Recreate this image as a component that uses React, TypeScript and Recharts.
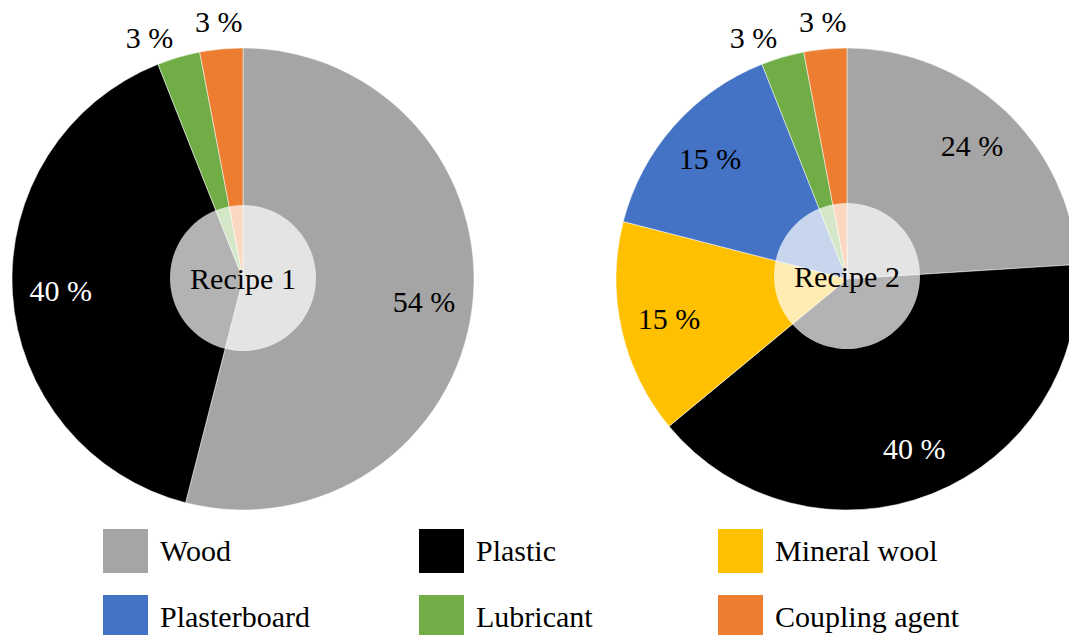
import React from 'react';
import { PieChart, Pie, Cell } from 'recharts';

const recipe1Names = ['Wood', 'Plastic', 'Lubricant', 'Coupling agent'];
const recipe1Values = [54, 40, 3, 3];

const recipe2Names = ['Wood', 'Plastic', 'Mineral wool', 'Plasterboard', 'Lubricant', 'Coupling agent'];
const recipe2Values = [24, 40, 15, 15, 3, 3];

const legendNames = ['Wood', 'Plastic', 'Mineral wool', 'Plasterboard', 'Lubricant', 'Coupling agent'];

const COLORS: Record<string, string> = {
  Wood: '#a5a5a5',
  Plastic: '#000000',
  'Mineral wool': '#ffc000',
  Plasterboard: '#4472c4',
  Lubricant: '#70ad47',
  'Coupling agent': '#ed7d31',
};

const FONT = 'Times New Roman, serif';
const RADIAN = Math.PI / 180;
const R = 231;

const recipe1 = recipe1Names.map((name, i) => ({ name, value: recipe1Values[i] }));
const recipe2 = recipe2Names.map((name, i) => ({ name, value: recipe2Values[i] }));

// small slices get labels outside; lubricant label sits a bit further left
const outsideShift: Record<string, number> = { Lubricant: 5, 'Coupling agent': 0 };

const renderLabel = (props: any) => {
  const { cx, cy, midAngle, outerRadius, value, name } = props;
  const small = value < 5;
  const r = small ? outerRadius * 1.12 : outerRadius * 0.79;
  const angle = midAngle + (small ? outsideShift[name] || 0 : 0);
  const x = cx + r * Math.cos(-angle * RADIAN);
  const y = cy + r * Math.sin(-angle * RADIAN);
  return (
    <text
      x={x}
      y={y}
      fill={name === 'Plastic' ? '#ffffff' : '#000000'}
      textAnchor="middle"
      dominantBaseline="central"
      style={{ fontFamily: FONT, fontSize: 30 }}
    >
      {`${value} %`}
    </text>
  );
};

const renderCenter = (props: any) => (
  <text
    x={props.cx}
    y={props.cy}
    fill="#000"
    textAnchor="middle"
    dominantBaseline="central"
    style={{ fontFamily: FONT, fontSize: 30 }}
  >
    {props.name}
  </text>
);

export default function App() {
  return (
    <div
      style={{
        position: 'absolute',
        left: 0,
        top: 0,
        width: 1069,
        height: 635,
        overflow: 'hidden',
        background: '#fff',
        fontFamily: FONT,
      }}
    >
      <PieChart width={1069} height={520} margin={{ top: 0, right: 0, bottom: 0, left: 0 }}>
        <Pie
          data={recipe1}
          dataKey="value"
          nameKey="name"
          cx={243}
          cy={279}
          outerRadius={R}
          startAngle={90}
          endAngle={-270}
          stroke="#ffffff"
          strokeWidth={0.5}
          label={renderLabel}
          labelLine={false}
          isAnimationActive={false}
        >
          {recipe1.map(d => (
            <Cell key={d.name} fill={COLORS[d.name]} />
          ))}
        </Pie>
        <Pie
          data={[{ name: 'Recipe 1', value: 1 }]}
          dataKey="value"
          nameKey="name"
          cx={243}
          cy={278}
          outerRadius={73}
          fill="#ffffff"
          fillOpacity={0.7}
          stroke="none"
          label={renderCenter}
          labelLine={false}
          isAnimationActive={false}
        />
        <Pie
          data={recipe2}
          dataKey="value"
          nameKey="name"
          cx={847}
          cy={279}
          outerRadius={R}
          startAngle={90}
          endAngle={-270}
          stroke="#ffffff"
          strokeWidth={0.5}
          label={renderLabel}
          labelLine={false}
          isAnimationActive={false}
        >
          {recipe2.map(d => (
            <Cell key={d.name} fill={COLORS[d.name]} />
          ))}
        </Pie>
        <Pie
          data={[{ name: 'Recipe 2', value: 1 }]}
          dataKey="value"
          nameKey="name"
          cx={847}
          cy={276}
          outerRadius={73}
          fill="#ffffff"
          fillOpacity={0.7}
          stroke="none"
          label={renderCenter}
          labelLine={false}
          isAnimationActive={false}
        />
      </PieChart>
      <div
        style={{
          position: 'absolute',
          top: 529,
          left: 103,
          display: 'grid',
          gridTemplateColumns: '316px 299px 300px',
          rowGap: 22,
          fontFamily: FONT,
          fontSize: 30,
        }}
      >
        {legendNames.map(n => (
          <div key={n} style={{ display: 'flex', alignItems: 'center', height: 44 }}>
            <div style={{ width: 45, height: 44, background: COLORS[n], marginRight: 12 }} />
            <span style={{ color: '#000' }}>{n}</span>
          </div>
        ))}
      </div>
    </div>
  );
}
